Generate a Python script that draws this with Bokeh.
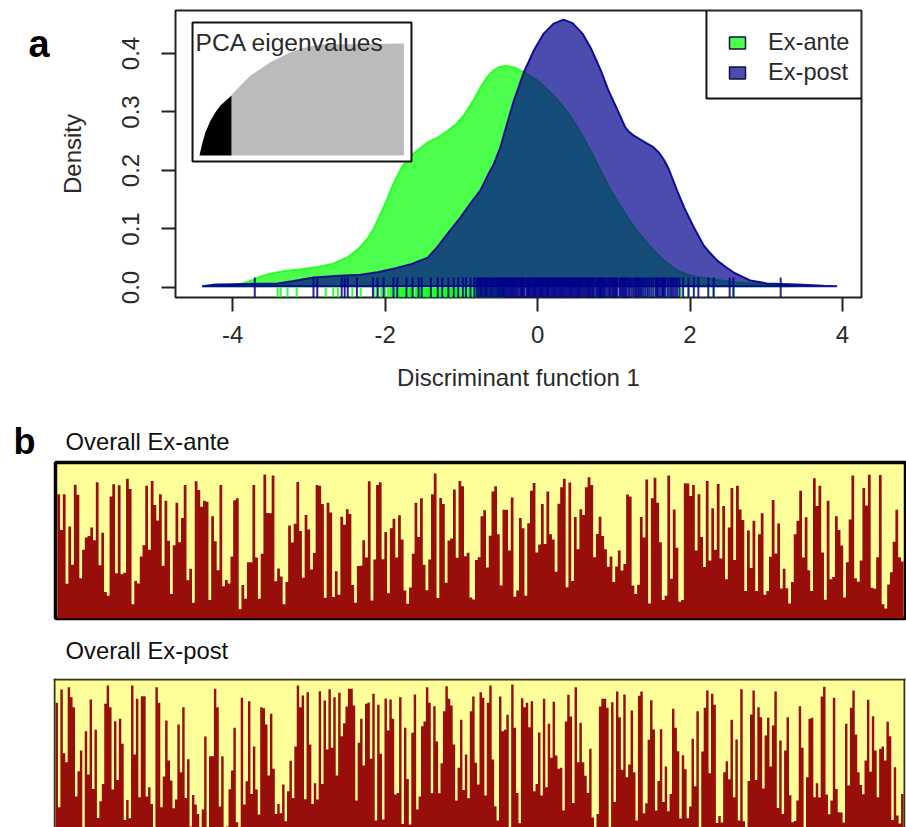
from bokeh.plotting import figure
from bokeh.layouts import row
from bokeh.core.properties import value
from bokeh.models import Range1d, FixedTicker, Label, Legend, LegendItem, BoxAnnotation, Span
from bokeh.embed import file_html
from bokeh.resources import INLINE

FONT = "Liberation Sans"
GREEN = "#00ff00"
NAVY = "#00008b"
RED = "#970e0a"
YELLOW = "#ffff99"
TXT = "#2a2a2a"

ante_x = [-4.40,-4.1,-3.90,-3.75,-3.63,-3.5,-3.33,-3.1,-2.89,-2.7,-2.49,-2.35,-2.23,-2.14,-2.06,-1.97,-1.89,-1.77,-1.63,-1.54,-1.44,-1.3,-1.18,-1.07,-0.97,-0.86,-0.75,-0.66,-0.58,-0.5,-0.41,-0.3,-0.18,0.0,0.1,0.21,0.31,0.41,0.5,0.60,0.69,0.78,0.87,0.96,1.07,1.18,1.28,1.39,1.5,1.61,1.72,1.83,1.95,2.09,2.31,2.57,2.83,3.32]
ante_y = [.002,.003,.006,.012,.019,.024,.028,.031,.035,.04,.052,.066,.084,.103,.126,.152,.178,.208,.229,.238,.248,.257,.268,.279,.294,.316,.342,.360,.371,.377,.379,.376,.368,.354,.342,.328,.313,.297,.279,.257,.235,.212,.189,.166,.143,.120,.101,.084,.067,.052,.040,.029,.023,.018,.014,.009,.007,.002]
post_x = [-4.40,-4.22,-3.8,-3.41,-3.2,-2.94,-2.6,-2.32,-2.1,-1.89,-1.66,-1.44,-1.31,-1.18,-1.01,-.88,-.75,-.64,-.57,-.49,-.40,-.31,-.18,-.05,.08,.21,.34,.46,.59,.70,.83,.93,1.05,1.15,1.2,1.26,1.35,1.44,1.52,1.59,1.66,1.72,1.83,1.94,2.05,2.18,2.27,2.36,2.47,2.57,2.79,3.01,3.41,3.75,3.93]
post_y = [.002,.005,.006,.007,.011,.017,.020,.022,.026,.032,.040,.051,.070,.092,.120,.144,.166,.195,.212,.239,.280,.320,.368,.405,.434,.451,.458,.452,.434,.409,.371,.337,.303,.274,.266,.260,.253,.246,.240,.231,.218,.203,.166,.132,.103,.072,.058,.046,.035,.026,.012,.007,.005,.003,.002]

ante_rug = [-3.41,-3.37,-3.28,-3.16,-2.78,-2.68,-2.62,-2.43,-2.32,-2.14,-2.09,-2.05,-2.00,-1.96,-1.93,-1.91,-1.87,-1.845,-1.82,-1.80,-1.78,-1.76,-1.74,-1.715,-1.69,-1.675,-1.66,-1.63,-1.60,-1.585,-1.57,-1.55,-1.53,-1.51,-1.49,-1.47,-1.45,-1.435,-1.42,-1.40,-1.38,-1.36,-1.34,-1.32,-1.30,-1.285,-1.27,-1.245,-1.22,-1.205,-1.19,-1.17,-1.15,-1.14,-1.13,-1.105,-1.08,-1.07,-1.06,-1.035,-1.01,-.985,-.96,-.94,-.92,-.90,-.87,-.85,-.82,-.80,-.78,-.75,-.72,-.70,-.68,-.66,-.63,-.60,-.58,-.55,-.53,-.50,-.47,-.45,-.20,-.12,.05,.30,.61,.77,.93,1.09,1.25,1.35,1.45,1.55,1.65,1.72,1.88,1.98,2.31,2.57]
post_rug = [-3.71,-2.94,-2.89,-2.57,-2.53,-2.49,-2.37,-2.16,-2.10,-2.02,-1.89,-1.84,-1.72,-1.64,-1.56,-1.52,-1.40,-1.31,-1.25,-1.17,-1.10,-1.04,-.98,-.94,-.88,-.83,-.80,-.78,-.76,-.745,-.73,-.71,-.69,-.675,-.66,-.64,-.62,-.605,-.59,-.57,-.55,-.53,-.515,-.50,-.485,-.47,-.455,-.44,-.425,-.41,-.395,-.38,-.365,-.35,-.335,-.32,-.305,-.29,-.275,-.26,-.24,-.22,-.21,-.20,-.185,-.17,-.145,-.13,-.12,-.11,-.095,-.08,-.065,-.05,-.04,-.03,-.015,0.0,.015,.03,.045,.06,.075,.09,.105,.12,.13,.14,.155,.17,.185,.20,.215,.23,.245,.26,.275,.29,.305,.32,.335,.35,.365,.38,.395,.41,.425,.44,.455,.47,.485,.50,.515,.53,.545,.56,.575,.59,.61,.63,.645,.66,.675,.69,.705,.72,.73,.75,.775,.79,.805,.82,.83,.84,.855,.87,.885,.91,.935,.95,.97,.985,1.00,1.015,1.03,1.045,1.075,1.09,1.11,1.125,1.14,1.155,1.17,1.195,1.21,1.235,1.26,1.28,1.295,1.315,1.33,1.35,1.37,1.395,1.42,1.445,1.47,1.495,1.52,1.55,1.565,1.58,1.605,1.63,1.645,1.66,1.68,1.71,1.74,1.76,1.78,1.805,1.83,1.86,1.91,1.98,2.05,2.11,2.24,2.31,2.52,2.57,3.19]

pc = [0,1.3,2.9,5.4,7.8,10.2,15.1,15.6,16,20,22.4,24.9,29.8,34.6,39.5,44.4,49.3,54,59,99.7]
eig = [0,.104,.208,.3125,.387,.446,.527,.535,.55,.625,.67,.714,.774,.833,.878,.922,.953,.976,.991,1.0]
BLACK_PCS = 8

ante_read = [105,210,105,368,200,312,77,107,352,268,232,228,203,240,70,314,218,392,403,112,76,337,79,340,336,60,90,428,360,367,288,255,80,268,66,137,182,105,315,124,242,398,255,130,246,175,78,358,324,424,67,93,142,124,127,416,170,243,328,78,375,357,367,288,123,117,443,372,412,305,305,78,291,412,280,47,160,161,50,361,323,347,428,363,197,247,192,69,213,350,166,209,326,278,78,80,134,409,130,159,407,331,400,171,195,149,163,372,424,316,315,240,291,67,417,297,78,70,296,216,396,205,177,291,167,238,388,427,379,280,130,231,117,312,387,297,105,44,410,116,134,365,241,235,91,292,66,82,287,277,408,414,298,290,170,
152,320,227,97,82,223,373,151,151,270,115,406,388,175,205,403,190,95,72,276,253,134,251,97,223,238,333,133,85,60,378,71,360,172,267,149,166,85,55,78,290,222,171,228,267,318,288,363,317,270,329,310,106,112,373,398,371,172,232,62,426,117,57,130,246,416,403,50,353,150,262,421,416,73,74,110,78,270,105,231,319,66,300,146,268,75,294,140,355,203,87,298,80,150,181,389,212,322,183,389,223,161,400,389,289,122,279,191,382,324,381,426,363,223,183,95,291,173,328,389,58,140,80,276,415,124,355,348,170,210,256,408,305,179,50,352,362,300,87,138,48,380,383,290,49,428,441,370,334,245,151,290,303]

post_read = [97,410,57,248,275,50,80,110,378,302,240,480,182,312,87,355,178,442,392,340,100,45,110,357,152,328,145,220,448,388,443,45,252,85,380,77,77,378,350,400,480,50,97,410,318,150,270,330,413,387,162,305,110,382,266,468,373,402,430,480,417,198,480,257,257,55,110,408,257,480,468,356,300,172,455,480,82,402,332,92,370,228,357,432,110,113,162,315,130,295,430,400,428,342,452,362,271,382,228,45,110,75,386,65,222,400,338,387,62,340,90,237,56,232,80,315,67,197,158,108,55,55,105,390,217,145,285,100,96,265,70,450,103,250,447,84,180,87,145,372,367,80,460,172,325,462,187,72,417,378,167,153,50,97,368,107,213,368,278,122,47,85,105,222,390,292,148,358,252,383,122,78,277,342,
65,82,375,97,45,267,407,450,78,182,178,133,480,42,172,367,458,83,110,97,170,92,362,340,186,375,85,350,160,262,94,255,295,292,420,153,73,138,397,50,275,157,275,316,367,235,441,480,430,108,85,85,112,480,95,394,63,140,298,72,320,282,120,305,450,76,63,428,398,208,89,177,420,331,176,394,288,422,370,115,172,242,444,254,296,443,408,205,347,122,480,243,112,60,308,70,103,457,436,456,305,272,326,148,380,207,450,56,452,480,331,132,60,328,110,140,354,195,142,288,165,63,412,210,430,240,140,374,455,451,390,107,232,480,320,145,142,380,338,381,78,49,372,431,390,82,355,425,426,456,160,345,112,60,192,305,343,371,270,88,304,137,240,380,235,228,270,154,197,448,290,435,459,370]

ante_share = [(470 - v) / 458 for v in ante_read]
post_share = [(485 - v) / 458 for v in post_read]


def band(width, height, top=0, bottom=0):
    """A bare figure whose frame is the whole strip; its ranges run in pixels from its top-left corner."""
    f = figure(width=width, height=height, output_backend="svg", toolbar_location=None,
               x_range=Range1d(0, width), y_range=Range1d(height - top - bottom, 0),
               min_border_left=0, min_border_right=0, min_border_top=top, min_border_bottom=bottom,
               x_axis_location=None, y_axis_location=None, outline_line_color=None)
    f.grid.visible = False
    return f


def put(f, s, x, y, size, style="normal", color="#111111"):
    f.text(x=[x], y=[y], text=[s], text_font=value(FONT), text_font_size=value(size), text_font_style=style,
           text_color=color, text_baseline="alphabetic", text_align="left")


# panel a
strip = band(50, 407, top=10, bottom=110)
put(strip, "a", 28, 33, "38px", "bold", "black")

p = figure(width=856, height=407, output_backend="svg", toolbar_location=None,
           x_range=Range1d(-4.75, 4.25), y_range=Range1d(-0.0171, 0.4735),
           min_border_left=125, min_border_right=45, min_border_top=10, min_border_bottom=110,
           x_axis_label="Discriminant function 1", y_axis_label="Density")
p.grid.visible = False
p.outline_line_color = "#222222"
p.outline_line_width = 2
p.xaxis.ticker = FixedTicker(ticks=[-4, -2, 0, 2, 4])
p.yaxis.ticker = FixedTicker(ticks=[0.0, 0.1, 0.2, 0.3, 0.4])
p.xaxis.major_label_overrides = {-4: "-4", -2: "-2", 0: "0", 2: "2", 4: "4"}
p.yaxis.major_label_overrides = {0.0: "0.0", 0.1: "0.1", 0.2: "0.2", 0.3: "0.3", 0.4: "0.4"}
p.yaxis.major_label_orientation = "vertical"
for ax in (p.xaxis[0], p.yaxis[0]):
    ax.axis_line_color = None
    ax.minor_tick_line_color = None
    ax.major_tick_line_color = "#222222"
    ax.major_tick_line_width = 2
    ax.major_tick_out = 14
    ax.major_tick_in = 0
    ax.major_label_text_font = FONT
    ax.major_label_text_font_size = "24px"
    ax.major_label_text_color = TXT
    ax.axis_label_text_font = FONT
    ax.axis_label_text_font_size = "24px"
    ax.axis_label_text_font_style = "normal"
    ax.axis_label_text_color = TXT
p.xaxis.major_label_standoff = 14
p.xaxis.axis_label_standoff = 18
p.yaxis.major_label_standoff = 22
p.yaxis.axis_label_standoff = 34

p.patch(ante_x, ante_y, fill_color=GREEN, fill_alpha=0.7, line_color=GREEN, line_alpha=0.7, line_width=2)
p.patch(post_x, post_y, fill_color=NAVY, fill_alpha=0.7, line_color=NAVY, line_alpha=0.9, line_width=2)
p.segment(ante_rug, -0.0171, ante_rug, 0.0, line_color=GREEN, line_alpha=0.8, line_width=2)
p.segment(post_rug, -0.0171, post_rug, 0.0171, line_color=NAVY, line_alpha=0.85, line_width=2)

# inset: cumulative PCA eigenvalues
p.extra_x_ranges = {"inset": Range1d(-11.7, 322.9)}
p.extra_y_ranges = {"inset": Range1d(-1.268, 1.2946)}
p.quad(left=-3.4, right=103.4, bottom=-0.054, top=1.187, fill_color="white", line_color="#111111",
       line_width=2, x_range_name="inset", y_range_name="inset")
p.varea(x=pc[BLACK_PCS - 1:], y1=[0] * (len(pc) - BLACK_PCS + 1), y2=eig[BLACK_PCS - 1:], fill_color="#bbbbbb",
        x_range_name="inset", y_range_name="inset")
p.varea(x=pc[:BLACK_PCS], y1=[0] * BLACK_PCS, y2=eig[:BLACK_PCS], fill_color="black",
        x_range_name="inset", y_range_name="inset")
p.add_layout(Label(x=20, y=255, x_units="screen", y_units="screen", text="PCA eigenvalues", text_font=FONT,
                   text_font_size="24.6px", text_color=TXT, text_baseline="alphabetic", level="overlay"))

# legend
p.add_layout(BoxAnnotation(left=2.216, bottom=0.323, fill_color="white", fill_alpha=1,
                           line_color="#111111", line_alpha=1, line_width=2))
g_sw = p.quad(left=[-9], right=[-9], top=[0], bottom=[0], fill_color=GREEN, fill_alpha=0.7, line_color="#111144", line_width=1.5)
b_sw = p.quad(left=[-9], right=[-9], top=[0], bottom=[0], fill_color=NAVY, fill_alpha=0.7, line_color="#111144", line_width=1.5)
leg = Legend(items=[LegendItem(label="Ex-ante", renderers=[g_sw]), LegendItem(label="Ex-post", renderers=[b_sw])],
             location=(552, 211), padding=0, margin=0, spacing=3, glyph_width=20, glyph_height=15,
             label_standoff=21, border_line_color=None, background_fill_alpha=0,
             label_text_font=FONT, label_text_font_size="23.6px", label_text_color=TXT)
p.add_layout(leg)


def bars(values, height, left, right, top, bottom, pad, y0=0.0, y1=1.0):
    f = figure(width=906, height=height, output_backend="svg", toolbar_location=None,
               x_range=Range1d(-pad, len(values) + pad), y_range=Range1d(y0, y1),
               min_border_left=left, min_border_right=right, min_border_top=top, min_border_bottom=bottom,
               x_axis_location=None, y_axis_location=None, background_fill_color=YELLOW)
    f.grid.visible = False
    x = list(range(len(values) + 1))
    y = list(values) + [values[-1]]
    f.varea_step(x=x, y1=[0] * len(x), y2=y, step_mode="after", fill_color=RED)
    return f


head1 = band(906, 53)
put(head1, "b", 13, 34, "36px", "bold", "black")
put(head1, "Overall Ex-ante", 65, 33.5, "23.8px")

pad1 = len(ante_share) * 1.85 / 846
b1 = bars(ante_share, 161, 55, 1, 2, 3, pad1)
b1.outline_line_color = "#050505"
b1.outline_line_width = 3.5

head2 = band(906, 56)
put(head2, "Overall Ex-post", 65, 29, "23.8px")

pad2 = len(post_share) * 2 / 848
b2 = bars(post_share, 150, 53, 1, 1, 0, pad2, y0=0.031, y1=1.0065)
b2.outline_line_color = None
for loc, dim in ((-pad2 * 0.5, "height"), (len(post_share) + pad2 * 0.5, "height"), (1.0, "width")):
    b2.add_layout(Span(location=loc, dimension=dim, line_color="#333333", line_width=2))

open("out.html", "w").write(file_html([row(strip, p, spacing=0), head1, b1, head2, b2], INLINE))
